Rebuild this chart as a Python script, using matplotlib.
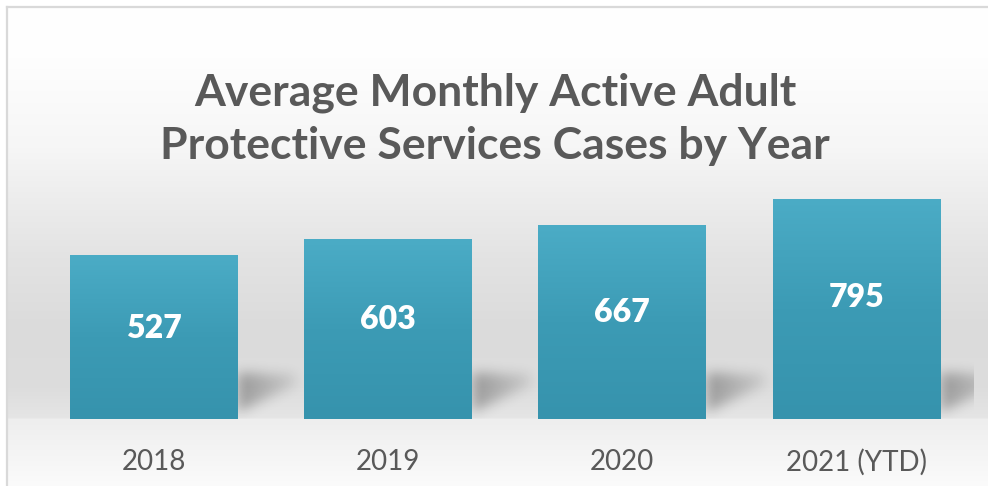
import numpy as np
import matplotlib
matplotlib.use("Agg")
import matplotlib.pyplot as plt
from matplotlib.lines import Line2D
from matplotlib.path import Path
from matplotlib.colors import LinearSegmentedColormap

# data
years = ["2018", "2019", "2020", "2021 (YTD)"]
cases = [527, 603, 667, 795]
title = "Average Monthly Active Adult\nProtective Services Cases by Year"

W, H = 988, 486
fig = plt.figure(figsize=(W / 100, H / 100), dpi=100)
fig.patch.set_facecolor("white")

# background: wall + floor gradient
bg = fig.add_axes([8 / W, 0, 1 - 8 / W, 1 - 8 / H])
rows = np.arange(H - 8)
ky = [0, 50, 140, 190, 250, 320, 380, 409, 411, 478]
kv = [255, 254, 246, 237, 227, 219, 221, 229, 238, 251]
grad = np.interp(rows, ky, kv) / 255.0
img = np.repeat(grad[:, None], 2, axis=1)
bg.imshow(np.dstack([img, img, img]), aspect="auto", extent=[0, 1, 0, 1])
bg.set_axis_off()

# frame lines
fig.add_artist(Line2D([7 / W, 7 / W], [0, 1 - 7 / H], color="#d9d9d9", lw=1.6))
fig.add_artist(Line2D([7 / W, 1], [1 - 7 / H, 1 - 7 / H], color="#d9d9d9", lw=1.6))

# plot area
base = -250
ytop = 900
ax_b = (H - 418.7) / H
ax_h = (ytop - base) * 0.2107 / H
ax = fig.add_axes([36.5 / W, ax_b, 937 / W, ax_h])
ax.patch.set_alpha(0)
x = np.arange(len(years))
width = 0.714
heights = [v - base for v in cases]
bars = ax.bar(x, heights, width, bottom=base, color="#4BACC6", zorder=3)
ax.set_xlim(-0.5, len(years) - 0.5)
ax.set_ylim(base, ytop)


def blur(a, sigma):
    k = np.arange(-3 * sigma, 3 * sigma + 1)
    k = np.exp(-k ** 2 / (2 * sigma ** 2))
    k /= k.sum()
    a = np.apply_along_axis(lambda r: np.convolve(r, k, mode="same"), 0, a)
    a = np.apply_along_axis(lambda r: np.convolve(r, k, mode="same"), 1, a)
    return a


# soft shadow mask in pixels (u right of bar edge, v above the baseline)
sw, sh = 80, 80
uu, vv = np.meshgrid(np.arange(sw) + 0.5, np.arange(sh) + 0.5)
shape = Path([(-10, 2), (-10, 46), (60, 45), (60, 34)])
mask = shape.contains_points(np.c_[uu.ravel(), vv.ravel()]).reshape(sh, sw).astype(float)
mask = blur(mask, 6) * np.clip(1.15 - uu / 70, 0, 1)
shade = np.zeros((sh, sw, 4))
shade[..., 3] = 0.27 * mask

to_data = ax.transData.inverted()
for b in bars:
    rx = b.get_x() + b.get_width()
    px, py = ax.transData.transform((rx, base))
    (x0, y0), (x1, y1) = to_data.transform([(px, py), (px + sw, py + sh)])
    ax.imshow(shade, origin="lower", aspect="auto", extent=[x0, x1, y0, y1],
              zorder=2, interpolation="bilinear")

# gradient fill for bars
cmap = LinearSegmentedColormap.from_list("teal", ["#3693AD", "#3C9BB5", "#4BACC6"])
g = np.linspace(0, 1, 256)[:, None]
for b in bars:
    im = ax.imshow(g, cmap=cmap, aspect="auto", origin="lower", zorder=4,
                   extent=[b.get_x(), b.get_x() + b.get_width(), base, base + b.get_height()])
    im.set_clip_path(b)
ax.set_xlim(-0.5, len(years) - 0.5)
ax.set_ylim(base, ytop)

# value labels
for xi, v in zip(x, cases):
    ax.text(xi, v - 0.45 * (v - base), str(v), ha="center", va="center", color="white",
            fontsize=23, fontweight="heavy", family="Lato", zorder=5)

ax.set_xticks(x)
ax.set_xticklabels(years, fontsize=20, color="#595959", family="Lato")
ax.tick_params(axis="x", length=0, pad=22)
ax.set_yticks([])
for s in ax.spines.values():
    s.set_visible(False)

fig.text(495 / W, 1 - 119 / H, title, ha="center", va="center", fontsize=32,
         fontweight="bold", color="#595959", family="Lato", linespacing=1.4)

fig.savefig("out.png", dpi=100)
